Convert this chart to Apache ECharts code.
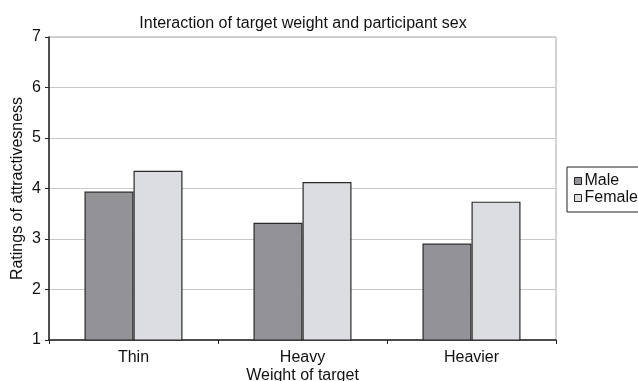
<!DOCTYPE html>
<html>
<head>
<meta charset="utf-8">
<script src="https://cdn.jsdelivr.net/npm/echarts@6/dist/echarts.min.js"></script>
<style>
  html, body { margin: 0; padding: 0; background: #fff; }
  #chart { width: 638px; height: 381px; }
</style>
</head>
<body>
<div id="chart"></div>
<script>
// Mean attractiveness ratings by target weight, split by participant sex
const categories = ['Thin', 'Heavy', 'Heavier'];
const maleRatings = [3.94, 3.32, 2.91];
const femaleRatings = [4.35, 4.13, 3.74];
const yTicks = { min: 1, max: 7, interval: 1 };

const font = 'Liberation Sans, Arial, sans-serif';
const chart = echarts.init(document.getElementById('chart'), null, { renderer: 'canvas' });

chart.setOption({
  animation: false,
  backgroundColor: '#ffffff',
  textStyle: { fontFamily: font, color: '#000' },
  title: {
    text: 'Interaction of target weight and participant sex',
    left: 303,
    textAlign: 'center',
    top: 16,
    padding: 0,
    textStyle: { fontFamily: font, fontSize: 16, fontWeight: 'normal', color: '#111' }
  },
  grid: {
    left: 49, right: 82, top: 37, bottom: 41,
    containLabel: false,
    outerBoundsMode: 'none',
    show: true, borderColor: '#aaaaaa', borderWidth: 1, backgroundColor: '#fff'
  },
  legend: {
    orient: 'vertical',
    left: 567, top: 167,
    padding: [6, 12, 6, 7],
    itemWidth: 7, itemHeight: 7, itemGap: 1,
    borderColor: '#222', borderWidth: 1,
    icon: 'rect',
    textStyle: { fontFamily: font, fontSize: 16, lineHeight: 16, color: '#111', padding: [0, 0, 0, -2] },
    itemStyle: { borderColor: '#222', borderWidth: 1 },
    data: ['Male', 'Female']
  },
  xAxis: {
    type: 'category',
    data: categories,
    name: 'Weight of target',
    nameLocation: 'middle',
    nameGap: 28,
    nameMoveOverlap: false,
    nameTextStyle: { fontFamily: font, fontSize: 16, color: '#111' },
    axisLine: { lineStyle: { color: '#222', width: 1.5 } },
    axisTick: { show: true, length: 4, lineStyle: { color: '#222' } },
    axisLabel: { fontFamily: font, fontSize: 16, color: '#111', margin: 10 },
    splitLine: { show: false }
  },
  yAxis: {
    type: 'value',
    min: yTicks.min, max: yTicks.max, interval: yTicks.interval,
    name: 'Ratings of attractivesness',
    nameLocation: 'middle',
    nameGap: 23,
    nameMoveOverlap: false,
    nameRotate: 90,
    nameTextStyle: { fontFamily: font, fontSize: 16, color: '#111' },
    axisLine: { show: true, lineStyle: { color: '#222', width: 1.5 } },
    axisTick: { show: true, length: 4, lineStyle: { color: '#222' } },
    axisLabel: { fontFamily: font, fontSize: 16, color: '#111', margin: 8 },
    splitLine: { show: true, lineStyle: { color: '#c8c8c8', width: 1 } }
  },
  series: [
    {
      name: 'Male', type: 'bar', data: maleRatings,
      barGap: '0%', barCategoryGap: '42%',
      itemStyle: { color: '#939397', borderColor: '#2a2a2a', borderWidth: 1.2 }
    },
    {
      name: 'Female', type: 'bar', data: femaleRatings,
      itemStyle: { color: '#dcdde0', borderColor: '#2a2a2a', borderWidth: 1.2 }
    }
  ]
});
</script>
</body>
</html>
